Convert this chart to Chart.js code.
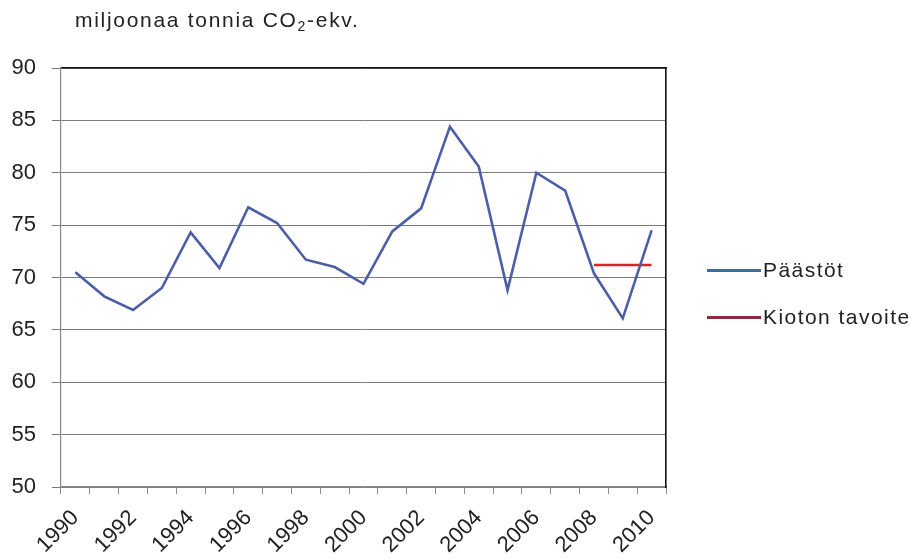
<!DOCTYPE html>
<html>
<head>
<meta charset="utf-8">
<script src="https://cdn.jsdelivr.net/npm/chart.js@4/dist/chart.umd.min.js"></script>
<style>
  html, body { margin: 0; padding: 0; background: #fff; }
  #wrap { position: relative; width: 912px; height: 560px; font-family: "Liberation Sans", Arial, sans-serif; color: #222; }
  #chart { position: absolute; left: 0; top: 0; }
  #unit { position: absolute; left: 75px; top: 8px; font-size: 21px; letter-spacing: 1.7px; white-space: nowrap; }
  #unit sub { font-size: 14px; vertical-align: -4px; line-height: 0; }
  #legend { position: absolute; left: 707px; top: 256px; font-size: 21px; letter-spacing: 1.45px; }
  .item { display: flex; align-items: center; height: 28px; margin-bottom: 19px; white-space: nowrap; }
  .swatch { display: inline-block; width: 54px; height: 3px; margin-right: 2px; }
</style>
</head>
<body>
<div id="wrap">
  <canvas id="chart" width="912" height="560"></canvas>
  <div id="unit">miljoonaa tonnia CO<sub>2</sub>-ekv.</div>
  <div id="legend"></div>
</div>
<script>
// Vuodet ja päästöt (milj. t CO2-ekv.)
const years = ['1990','1991','1992','1993','1994','1995','1996','1997','1998','1999','2000',
               '2001','2002','2003','2004','2005','2006','2007','2008','2009','2010'];
const paastot = [70.5, 68.2, 66.9, 69.0, 74.3, 70.9, 76.7, 75.2, 71.7, 71.0, 69.4,
                 74.4, 76.6, 84.4, 80.6, 68.8, 80.0, 78.3, 70.4, 66.1, 74.5];
// Kioton tavoitetaso kaudelle 2008–2012
const kioto = [null, null, null, null, null, null, null, null, null, null, null,
               null, null, null, null, null, null, null, 71.2, 71.2, 71.2];
const seriesNames = ['Päästöt', 'Kioton tavoite'];
const seriesColors = ['#4b5ea6', '#d8232e'];
const legendColors = ['#3d6aab', '#8c2b3c'];
const yMin = 50, yMax = 90, yStep = 5;

const tickFont = { family: '"Liberation Sans", Arial, sans-serif', size: 22 };

new Chart(document.getElementById('chart'), {
  type: 'line',
  data: {
    labels: years,
    datasets: [
      { label: seriesNames[0], data: paastot, borderColor: seriesColors[0], borderWidth: 2.6,
        pointRadius: 0, tension: 0, fill: false },
      { label: seriesNames[1], data: kioto, borderColor: seriesColors[1], borderWidth: 2.6,
        pointRadius: 0, tension: 0, fill: false, spanGaps: false }
    ]
  },
  options: {
    responsive: false,
    animation: false,
    layout: { padding: { left: 0, right: 245, top: 67, bottom: 0 } },
    plugins: { legend: { display: false }, tooltip: { enabled: false }, title: { display: false } },
    scales: {
      x: {
        type: 'category',
        offset: true,
        grid: { offset: true, drawOnChartArea: false, drawTicks: true, tickLength: 7, color: '#8a8a8a', lineWidth: 1 },
        border: { color: '#8a8a8a', width: 1.2 },
        ticks: {
          autoSkip: false, maxRotation: 45, minRotation: 45, padding: 11,
          color: '#222', font: tickFont,
          callback: function(v, i) { return i % 2 === 0 ? this.getLabelForValue(v) : ''; }
        },
        afterFit: s => { s.height = 73; }
      },
      xTop: {
        type: 'category', position: 'top', offset: true,
        grid: { drawOnChartArea: false, drawTicks: false },
        border: { color: '#111', width: 1.6 },
        ticks: { display: false },
        afterFit: s => { s.height = 1; }
      },
      y: {
        min: yMin, max: yMax,
        grid: { color: '#7a7a7a', lineWidth: 1, tickLength: 9, drawTicks: true },
        border: { color: '#8a8a8a', width: 1.2 },
        ticks: { stepSize: yStep, padding: 16, color: '#222', font: tickFont },
        afterFit: s => { s.width = 61; }
      },
      yRight: {
        position: 'right', min: yMin, max: yMax,
        grid: { drawOnChartArea: false, drawTicks: false },
        border: { color: '#111', width: 1.6 },
        ticks: { display: false },
        afterFit: s => { s.width = 1; }
      }
    }
  }
});

// Selite oikealle
const legend = document.getElementById('legend');
seriesNames.forEach((name, i) => {
  const row = document.createElement('div');
  row.className = 'item';
  const sw = document.createElement('span');
  sw.className = 'swatch';
  sw.style.background = legendColors[i];
  const tx = document.createElement('span');
  tx.textContent = name;
  row.appendChild(sw);
  row.appendChild(tx);
  legend.appendChild(row);
});
</script>
</body>
</html>
